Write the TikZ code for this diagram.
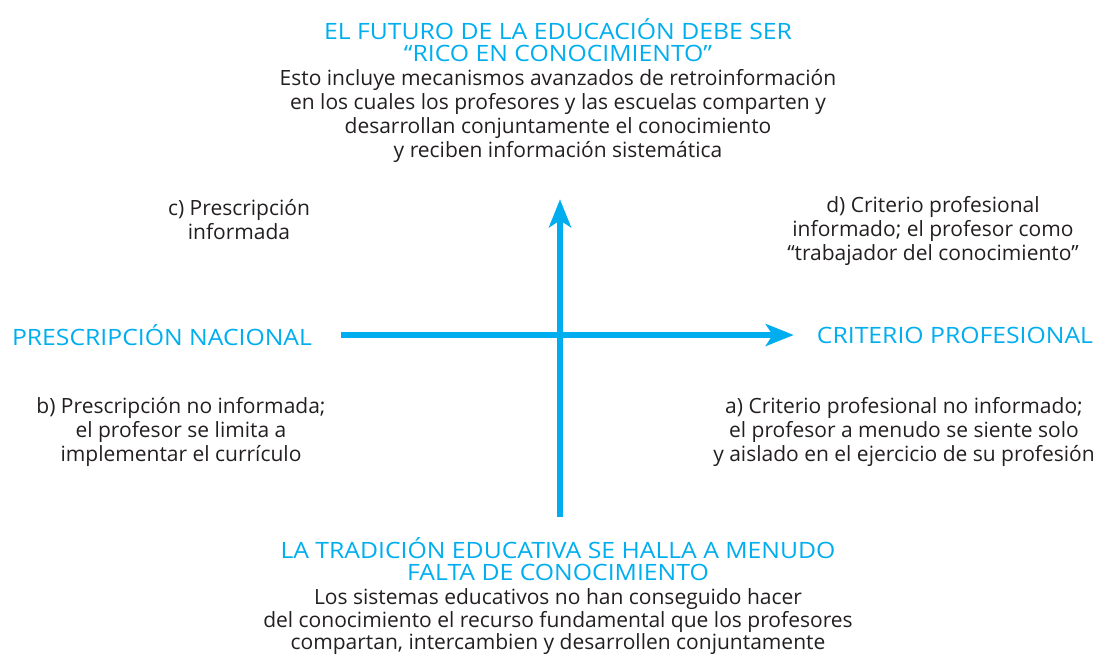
\documentclass[tikz,border=0pt]{standalone}
\usepackage{fontspec}
\setmainfont{Open Sans}
\newfontfamily\anchasans[FakeStretch=1.1,Ligatures=TeX]{Open Sans}
\usetikzlibrary{arrows.meta,positioning}
\definecolor{cian}{HTML}{00AEEF}
\definecolor{tinta}{HTML}{231F20}

\begin{document}
\begin{tikzpicture}[
     x=1pt,y=-1pt,
     titulo/.style={text=cian,align=center,inner sep=0pt,font=\anchasans\fontsize{22.5}{22}\selectfont},
     texto/.style={text=tinta,align=center,inner sep=0pt,font=\fontsize{21}{24}\selectfont},
     eje/.style={draw=cian,line width=6pt,-{Stealth[length=28pt,width=22pt,inset=7pt]}}]

    \useasboundingbox (0,0) rectangle (1107,654);

    \node[titulo] (futuro) at (558,40) {EL FUTURO DE LA EDUCACIÓN DEBE SER\\“RICO EN CONOCIMIENTO”};
    \node[texto] (futurotxt) [below=7pt of futuro] {Esto incluye mecanismos avanzados de retroinformación\\en los cuales los profesores y las escuelas comparten y\\desarrollan conjuntamente el conocimiento\\y reciben información sistemática};

    \node[texto] (presinf) at (239,220) {c) Prescripción\\informada};
    \node[texto] (critinf) at (933,231) {d) Criterio profesional\\informado; el profesor como\\“trabajador del conocimiento”};

    \node[titulo] (nacional) at (162,335) {PRESCRIPCIÓN NACIONAL};
    \node[titulo] (profesional) at (955,335) {CRITERIO PROFESIONAL};

    \node[texto] (presnoinf) at (181,432) {b) Prescripción no informada;\\el profesor se limita a\\implementar el currículo};
    \node[texto] (critnoinf) at (904,432) {a) Criterio profesional no informado;\\el profesor a menudo se siente solo\\y aislado en el ejercicio de su profesión};

    \node[titulo] (tradicion) at (558,559) {LA TRADICIÓN EDUCATIVA SE HALLA A MENUDO\\FALTA DE CONOCIMIENTO};
    \node[texto,font=\fontsize{21}{22.5}\selectfont] (tradiciontxt) [below=8pt of tradicion] {Los sistemas educativos no han conseguido hacer\\del conocimiento el recurso fundamental que los profesores\\compartan, intercambien y desarrollen conjuntamente};

    % ejes
    \draw[eje,shorten <=29pt,shorten >=23pt] (nacional.east) -- (profesional.west);
    \draw[eje,shorten <=20pt,shorten >=37pt] ([xshift=2pt]tradicion.north) -- ([xshift=2pt]tradicion.north |- futurotxt.south);

  \end{tikzpicture}
\end{document}
